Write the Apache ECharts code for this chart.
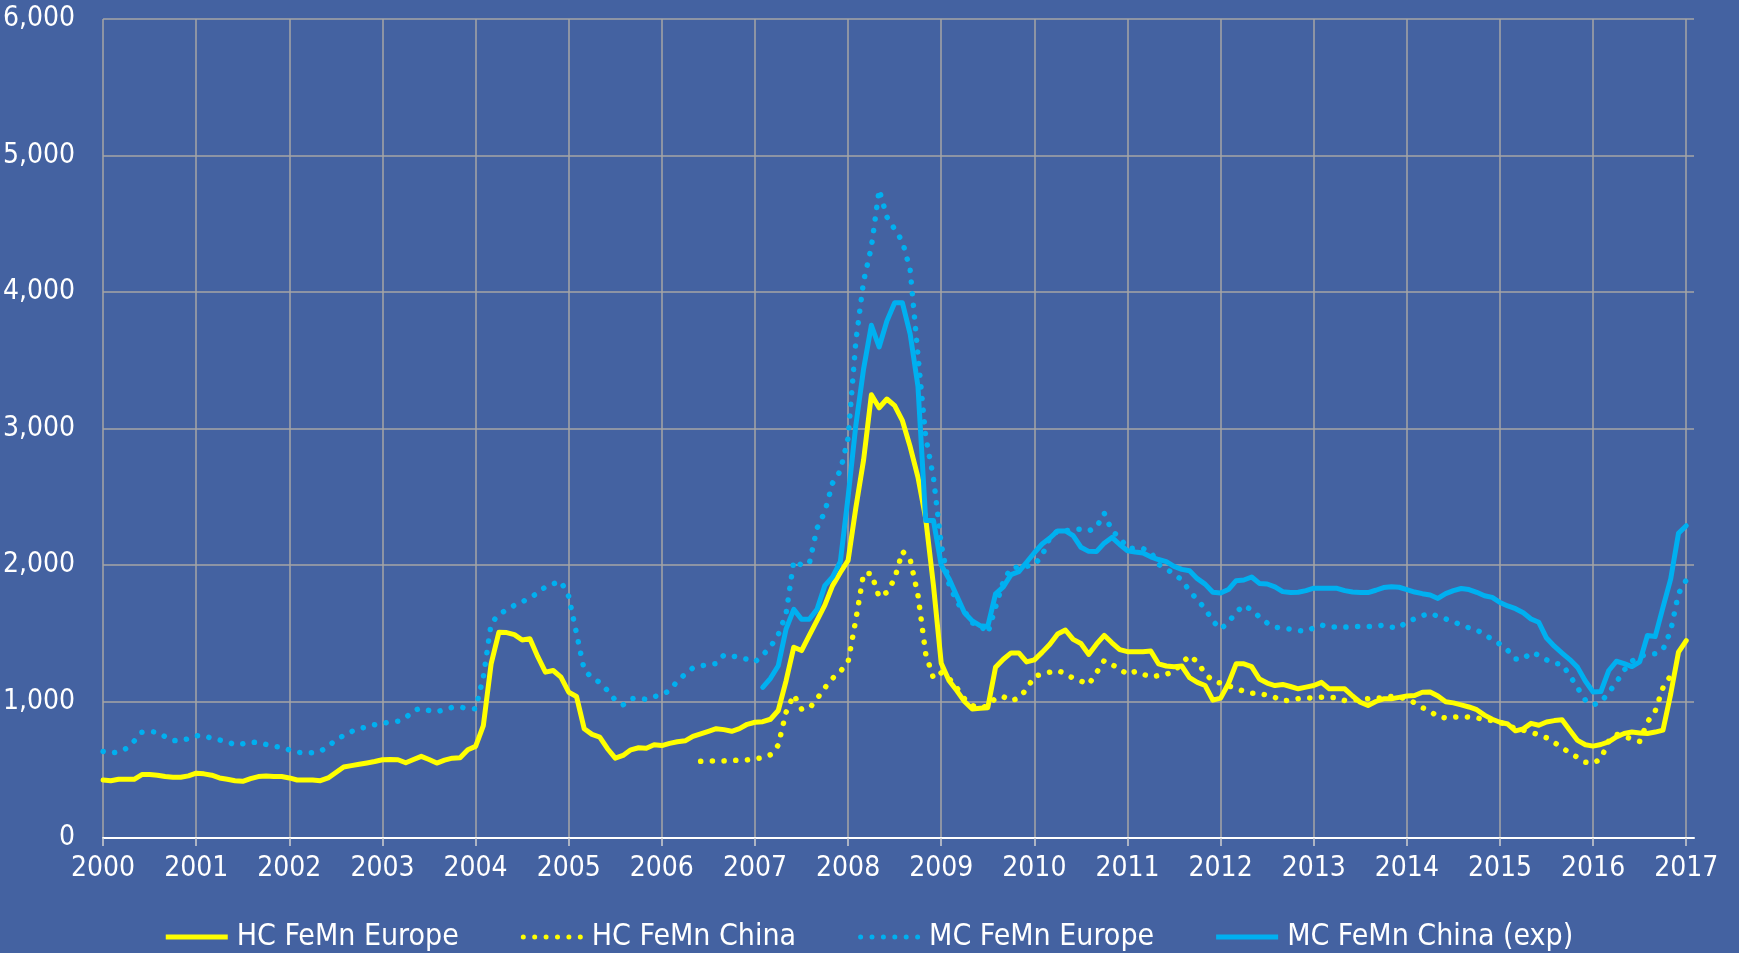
<!DOCTYPE html>
<html lang="en">
<head>
<meta charset="UTF-8">
<style>
  html, body { margin: 0; padding: 0; background: #4462a1; }
  #chart { width: 1739px; height: 953px; }
</style>
</head>
<body>
<div id="chart"></div>
<script src="https://cdn.jsdelivr.net/npm/echarts@6/dist/echarts.min.js"></script>
<script>
  // monthly prices
  var lastMonth = '2017-02';

  var hcEuropeFrom = '2000-01';
  var hcEurope = [
    425, 420, 430, 430, 430, 465, 465, 460, 450, 445, 445, 455,
    475, 470, 460, 440, 430, 420, 415, 435, 450, 455, 450, 450,
    440, 425, 425, 425, 420, 440, 480, 520, 530, 540, 550, 560,
    573, 575, 573, 551, 575, 598, 575, 549, 570, 585, 588, 646,
    671, 824, 1276, 1507, 1505, 1490, 1451, 1459, 1330, 1215, 1227, 1178,
    1068, 1037, 800, 759, 739, 654, 585, 605, 646, 661, 658, 683,
    677, 693, 705, 712, 744, 763, 782, 801, 794, 782, 801, 833,
    848, 852, 870, 934, 1150, 1398, 1373, 1484, 1595, 1706, 1849, 1945,
    2034, 2421, 2771, 3247, 3152, 3216, 3168, 3057, 2866, 2644, 2340, 1850,
    1280, 1154, 1080, 1000, 945, 950, 955, 1251, 1310, 1356, 1356, 1290,
    1305, 1360, 1420, 1495, 1524, 1455, 1425, 1345, 1420, 1485, 1430, 1380,
    1365, 1365, 1365, 1370, 1276, 1260, 1255, 1260, 1175, 1140, 1117, 1010,
    1025, 1130, 1276, 1276, 1255, 1165, 1135, 1117, 1125, 1110, 1093, 1105,
    1117, 1140, 1093, 1093, 1093, 1040, 995, 971, 1000, 1020, 1020, 1030,
    1040, 1044, 1068, 1070, 1040, 998, 990, 975, 960, 940, 900, 870,
    848, 835, 785, 800, 840, 826, 850, 860, 866, 790, 715, 683,
    673, 685, 705, 740, 765, 776, 770, 765, 776, 790, 1056, 1361,
    1446
  ];

  var hcChinaFrom = '2006-06';
  var hcChina = [
    562, 565, 565, 565, 568, 570, 572,
    580, 588, 610, 680, 920, 1050, 945, 950, 1020, 1100, 1170, 1220,
    1290, 1600, 1938, 1938, 1765, 1800, 1900, 2100, 2040, 1780, 1350, 1170,
    1210, 1170, 1100, 1020, 970, 955, 965, 1025, 1035, 1005, 1025, 1090,
    1185, 1200, 1215, 1227, 1205, 1170, 1150, 1125, 1210, 1300, 1270, 1240,
    1198, 1220, 1200, 1180, 1190, 1200, 1220, 1280, 1337, 1290, 1205, 1150,
    1135, 1115, 1095, 1075, 1061, 1061, 1045, 1030, 1005, 1010, 1020, 1025,
    1027, 1032, 1030, 1028, 1007, 1010, 1015, 1020, 1022, 1030, 1037, 1030,
    1020, 990, 955, 930, 887, 880, 885, 890, 885, 880, 868, 860,
    845, 830, 800, 790, 775, 755, 735, 700, 660, 625, 590, 555,
    548, 580, 710, 760, 745, 725, 708, 850, 930, 1100, 1190, 1205
  ];

  var mcEuropeFrom = '2000-01';
  var mcEurope = [
    634, 622, 630, 656, 710, 775, 780, 775, 742, 715, 712, 728,
    750, 750, 730, 718, 705, 683, 690, 702, 700, 685, 670, 666,
    645, 628, 624, 625, 636, 670, 720, 750, 780, 800, 815, 830,
    840, 850, 856, 880, 935, 950, 934, 925, 940, 958, 958, 950,
    946, 1180, 1570, 1640, 1670, 1705, 1730, 1760, 1795, 1840, 1862, 1880,
    1770, 1500, 1230, 1175, 1140, 1080, 1010, 975, 1020, 1025, 1015, 1035,
    1050, 1080, 1150, 1200, 1246, 1260, 1272, 1278, 1340, 1335, 1320, 1309,
    1290, 1340, 1400, 1490, 1640, 2030, 2000, 2010, 2270, 2390, 2600, 2690,
    2930, 3640, 4080, 4330, 4750, 4550, 4460, 4370, 4160, 3540, 2940, 2640,
    2150, 1860, 1730, 1660, 1575, 1560, 1500, 1690, 1880, 1980, 1985, 1990,
    2000, 2070, 2200, 2250, 2250, 2260, 2263, 2250, 2275, 2380, 2250, 2200,
    2125, 2120, 2120, 2095, 2005, 1970, 1935, 1890, 1810, 1745, 1680, 1590,
    1530, 1580, 1654, 1705, 1670, 1620, 1575, 1544, 1538, 1530, 1520, 1515,
    1540, 1560, 1546, 1545, 1545, 1548, 1550, 1549, 1550, 1560, 1545, 1540,
    1585, 1605, 1630, 1645, 1625, 1605, 1585, 1560, 1540, 1525, 1490, 1455,
    1420, 1375, 1311, 1310, 1360, 1340, 1305, 1278, 1273, 1190, 1100, 1010,
    975, 995, 1065, 1140, 1230, 1295, 1330, 1345, 1350, 1380, 1520, 1790,
    1890
  ];

  var mcChinaFrom = '2007-02';
  var mcChina = [
    1103, 1170, 1262, 1530, 1675, 1602, 1602, 1675, 1849, 1913, 2024,
    2500, 3025, 3438, 3756, 3597, 3788, 3921, 3921, 3692, 3311, 2326, 2326,
    2000, 1900, 1775, 1650, 1590, 1555, 1550, 1788, 1840, 1930, 1951, 2020,
    2090, 2154, 2198, 2250, 2250, 2215, 2130, 2100, 2098, 2160, 2202, 2150,
    2105, 2095, 2088, 2060, 2040, 2025, 1990, 1968, 1958, 1900, 1860, 1800,
    1795, 1820, 1885, 1890, 1912, 1865, 1861, 1840, 1805, 1798, 1800, 1812,
    1830, 1830, 1830, 1829, 1812, 1802, 1798, 1798, 1815, 1835, 1840, 1837,
    1820, 1802, 1790, 1780, 1755, 1790, 1812, 1828, 1820, 1800, 1775, 1763,
    1725, 1700, 1680, 1650, 1605, 1580, 1465, 1405, 1355, 1307, 1250, 1150,
    1070, 1073, 1225, 1295, 1278, 1256, 1290, 1483, 1476, 1690, 1898, 2232,
    2288
  ];

  var seriesNames = ['HC FeMn Europe', 'HC FeMn China', 'MC FeMn Europe', 'MC FeMn China (exp)'];
  var yellow = '#ffff00', blue = '#00b0f0';
  var font = "'Liberation Sans Narrow', 'DejaVu Sans Condensed', 'Open Sans', sans-serif";

  // legend swatches: a thick bar, and a row of round dots
  var solidIcon = 'path://M0,0H62V5H0Z';
  var dotIcon = 'path://' + [2.5, 13.9, 25.3, 36.7, 48.1, 59.5].map(function (cx) {
    return 'M' + (cx - 2.5) + ',2.5a2.5,2.5 0 1,0 5,0a2.5,2.5 0 1,0 -5,0Z';
  }).join('');

  // month categories 2000-01 .. lastMonth
  var months = [];
  for (var y = 2000; y <= 2017; y++) {
    for (var m = 1; m <= 12; m++) {
      var key = y + '-' + (m < 10 ? '0' : '') + m;
      months.push(key);
      if (key === lastMonth) break;
    }
  }

  function align(values, from) {
    var start = months.indexOf(from);
    return months.map(function (mm, i) {
      var j = i - start;
      return (j >= 0 && j < values.length) ? values[j] : null;
    });
  }

  function isJan(idx, val) {
    return val.slice(5) === '01';
  }

  function lineSeries(name, values, from, color, dotted) {
    return {
      name: name,
      type: 'line',
      data: align(values, from),
      symbol: 'none',
      showSymbol: false,
      connectNulls: false,
      itemStyle: { color: color },
      lineStyle: dotted
        ? { color: color, width: 5.5, type: [0.1, 11.6], cap: 'round' }
        : { color: color, width: 5, cap: 'round', join: 'round' },
      emphasis: { disabled: true }
    };
  }

  var chart = echarts.init(document.getElementById('chart'));
  chart.setOption({
    animation: false,
    backgroundColor: '#4462a1',
    textStyle: { fontFamily: font },
    grid: { left: 103, right: 45, top: 19, bottom: 115 },
    legend: {
      data: [
        { name: seriesNames[0], icon: solidIcon },
        { name: seriesNames[1], icon: dotIcon },
        { name: seriesNames[2], icon: dotIcon },
        { name: seriesNames[3], icon: solidIcon }
      ],
      left: 'center',
      top: 917,
      itemWidth: 62,
      itemHeight: 5,
      itemGap: 62,
      textStyle: { color: '#ffffff', fontSize: 30, fontFamily: font, padding: [0, 0, 0, 4] }
    },
    xAxis: {
      type: 'category',
      boundaryGap: false,
      data: months,
      axisLine: { lineStyle: { color: '#ffffff', width: 2 } },
      axisTick: { show: true, interval: isJan, length: 8, lineStyle: { color: '#d0d0d0', width: 1.5 } },
      axisLabel: {
        interval: isJan,
        color: '#ffffff',
        fontSize: 28,
        margin: 17,
        formatter: function (v) { return v.slice(0, 4); }
      },
      splitLine: { show: true, interval: isJan, lineStyle: { color: '#a6a6a6', width: 1.5 } }
    },
    yAxis: {
      type: 'value',
      min: 0,
      max: 6000,
      interval: 1000,
      axisLine: { show: false },
      axisTick: { show: false },
      axisLabel: {
        color: '#ffffff',
        fontSize: 28,
        margin: 28,
        formatter: function (v) { return v.toLocaleString('en-US'); }
      },
      splitLine: { lineStyle: { color: '#a6a6a6', width: 1.5 } }
    },
    series: [
      lineSeries(seriesNames[0], hcEurope, hcEuropeFrom, yellow, false),
      lineSeries(seriesNames[1], hcChina, hcChinaFrom, yellow, true),
      lineSeries(seriesNames[2], mcEurope, mcEuropeFrom, blue, true),
      lineSeries(seriesNames[3], mcChina, mcChinaFrom, blue, false)
    ]
  });
</script>
</body>
</html>
